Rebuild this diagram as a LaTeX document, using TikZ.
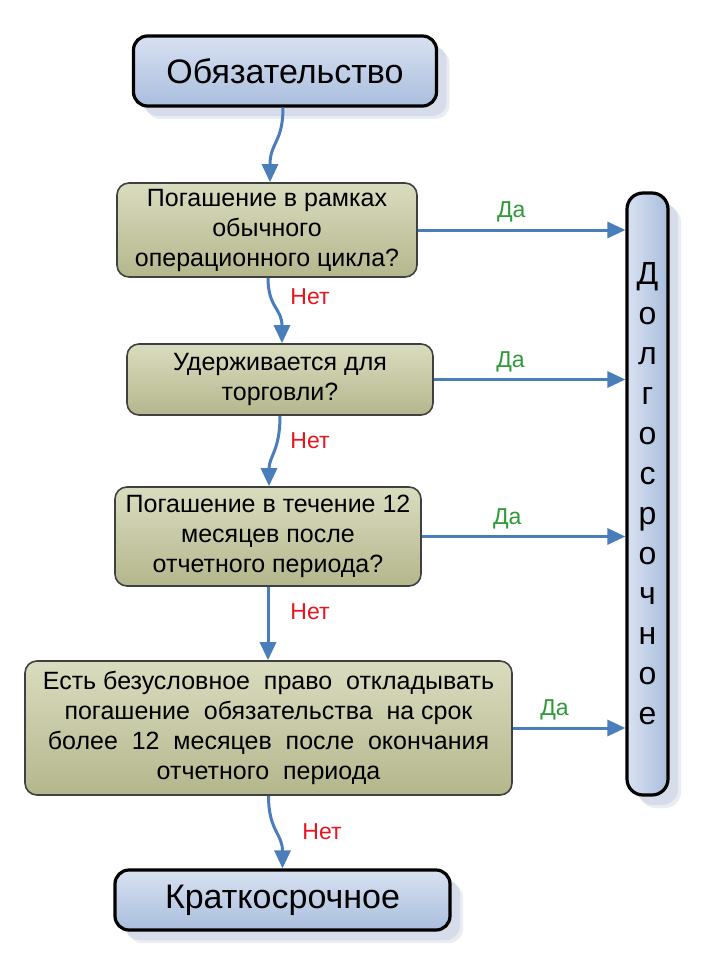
\documentclass[tikz,border=0pt]{standalone}
\usepackage{fontspec}
\setmainfont{Liberation Sans}
\usetikzlibrary{arrows.meta,shadows}
\definecolor{arrblue}{HTML}{4A7EBB}
\definecolor{dagreen}{HTML}{2E9A38}
\definecolor{netred}{HTML}{E8141E}
\definecolor{blueTop}{HTML}{D8E1F1}
\definecolor{blueBot}{HTML}{A9BEDD}
\definecolor{olTop}{HTML}{DADCBF}
\definecolor{olBot}{HTML}{B4B78C}
\definecolor{shcol}{HTML}{D6DCE9}
\definecolor{shcolb}{HTML}{E8ECF3}
\begin{document}
\begin{tikzpicture}[x=0.5pt,y=-0.5pt,
 bluebox/.style={draw=black, line width=1.6pt, rounded corners=7pt, top color=blueTop, bottom color=blueBot, inner sep=0pt,
   drop shadow={shadow xshift=6.5pt, shadow yshift=-6.5pt, fill=shcolb, opacity=1},
   drop shadow={shadow xshift=5pt, shadow yshift=-5pt, fill=shcol, opacity=1}},
 olbox/.style={draw=black!75, line width=0.8pt, rounded corners=6pt, top color=olTop, bottom color=olBot, inner sep=0pt, align=center, font=\fontsize{12.5}{15}\selectfont},
 arr/.style={draw=arrblue, line width=1.5pt, -{Triangle[length=9pt,width=8pt]}},
 da/.style={text=dagreen, font=\fontsize{11.5}{13}\selectfont, inner sep=0pt},
 net/.style={text=netred, font=\fontsize{11.5}{13}\selectfont, inner sep=0pt},
]
\useasboundingbox (0,0) rectangle (710,974);
\fill[white] (0,0) rectangle (710,974);

\node[bluebox, minimum width=151.5pt, minimum height=35pt, font=\fontsize{17}{20}\selectfont] (top) at (285,71) {Обязательство};
\node[olbox, minimum width=150pt, minimum height=47pt] (b1) at (267,230) {Погашение в рамках\\обычного\\операционного цикла?};
\node[olbox, minimum width=153pt, minimum height=35.5pt] (b2) at (280,379.5) {Удерживается для\\торговли?};
\node[olbox, minimum width=153pt, minimum height=49.5pt] (b3) at (268,536.5) {Погашение в течение 12\\месяцев после\\отчетного периода?};
\node[olbox, minimum width=243.5pt, minimum height=67pt] (b4) at (268.5,728) {Есть безусловное\ \ право\ \ откладывать\\погашение\ \ обязательства\ \ на срок\\более\ \ 12\ \ месяцев\ \ после\ \ окончания\\отчетного\ \ периода};
\node[bluebox, minimum width=167.5pt, minimum height=30pt, font=\fontsize{17}{20}\selectfont] (bot) at (282.5,900) {Краткосрочное};
\node[bluebox, left color=blueTop, right color=blueBot, rounded corners=8pt, minimum width=20.5pt, minimum height=301pt, align=center, font=\fontsize{16}{20}\selectfont] (long) at (647.5,494) {Д\\о\\л\\г\\о\\с\\р\\о\\ч\\н\\о\\е};

\draw[arr] ([xshift=-1pt]top.south) .. controls +(0,35) and +(0,-40) .. ([xshift=1.5pt]b1.north);
\draw[arr] ([xshift=0.5pt]b1.south) .. controls +(0,30) and +(0,-35) .. ([xshift=1pt]b2.north);
\draw[arr] (b2.south) .. controls +(0,35) and +(0,-30) .. ([xshift=0.5pt]b3.north);
\draw[arr] (b3.south) -- (b3.south |- b4.north);
\draw[arr] (b4.south) .. controls +(0,35) and +(0,-35) .. (bot.north);

\draw[arr] (b1.east) -- (b1.east -| long.west) node[da, pos=.45, yshift=9pt] (d1) {Да};
\draw[arr] (b2.east) -- (b2.east -| long.west) node[da, pos=.40, yshift=9pt] (d2) {Да};
\draw[arr] (b3.east) -- (b3.east -| long.west) node[da, pos=.42, yshift=9pt] (d3) {Да};
\draw[arr] (b4.east) -- (b4.east -| long.west) node[da, pos=.37, yshift=9pt] (d4) {Да};

\node[net] (n1) at (310,297) {Нет};
\node[net] (n2) at (310,441) {Нет};
\node[net] (n3) at (310,612) {Нет};
\node[net] (n4) at (322,832) {Нет};
\end{tikzpicture}
\end{document}
